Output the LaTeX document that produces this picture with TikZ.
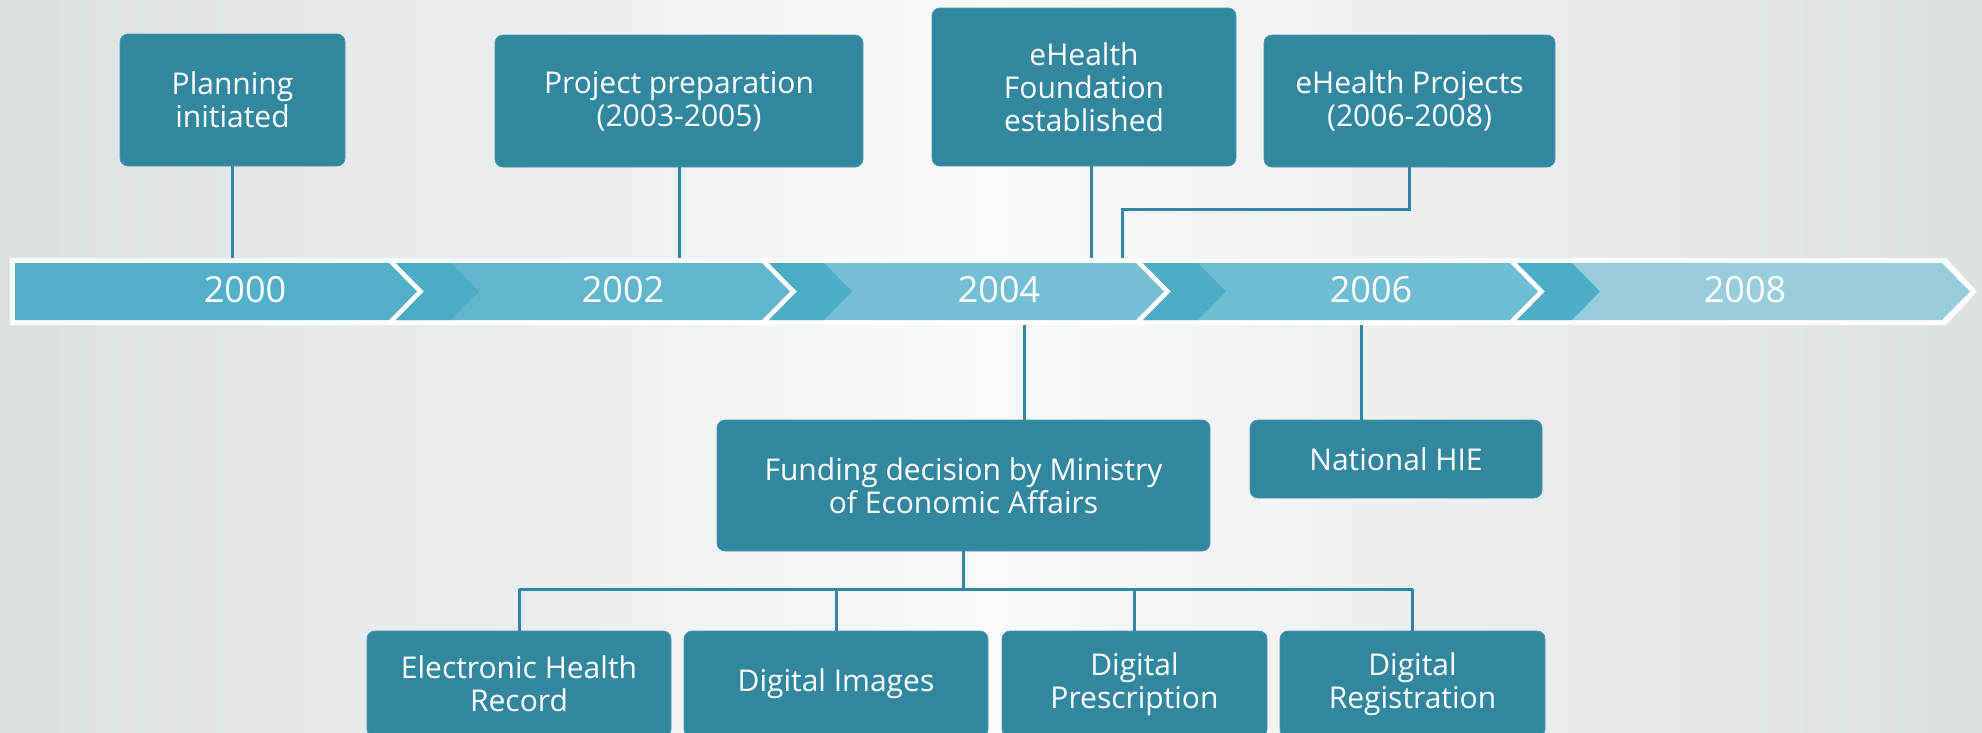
\documentclass[tikz,border=0pt]{standalone}
\usepackage{fontspec}
\setmainfont{Open Sans}
\definecolor{boxc}{HTML}{32879E}
\definecolor{boxedge}{HTML}{4A97AC}
\definecolor{bgside}{HTML}{DCE1E4}
\definecolor{bgmid}{HTML}{F9FAFA}
\definecolor{segA}{HTML}{53AEC7}
\definecolor{segB}{HTML}{61B5CC}
\definecolor{segC}{HTML}{74BFD3}
\definecolor{segD}{HTML}{6FBDD2}
\definecolor{segE}{HTML}{98CEDC}
\definecolor{darkchev}{HTML}{4BADC6}
\begin{document}
\begin{tikzpicture}[x=1pt,y=-1pt,
  tbox/.style={fill=boxc, draw=boxedge, line width=0.8pt, rounded corners=8pt, inner sep=0pt,
    align=center, text=white, font=\fontsize{30}{33}\selectfont},
  year/.style={text=white, inner sep=0pt, font=\fontsize{36}{40}\selectfont},
  conn/.style={draw=boxc, line width=3pt}]
\useasboundingbox (0,0) rectangle (1982,732);
\clip (0,0) rectangle (1982,732);
\shade[left color=bgside, right color=bgside, middle color=bgmid] (0,0) rectangle (1982,732);

% timeline bar
\fill[white] (10,258) -- (1946,258) -- (1977,291.5) -- (1946,325) -- (10,325) -- cycle;
\fill[segA] (15,263) -- (389,263) -- (417,291.5) -- (389,320) -- (15,320) -- cycle;
\foreach \L/\R/\c in {396/762/segB, 769/1136/segC, 1143/1510/segD}{
  \fill[\c] (\L,263) -- (\R,263) -- (\R+28,291.5) -- (\R,320) -- (\L,320) -- (\L+28,291.5) -- cycle;
}
\fill[segE] (1517,263) -- (1942,263) -- (1970,291.5) -- (1942,320) -- (1517,320) -- (1545,291.5) -- cycle;
\foreach \L in {396,769,1143,1517}{
  \fill[darkchev] (\L,263) -- (\L+55,263) -- (\L+83,291.5) -- (\L+55,320) -- (\L,320) -- (\L+28,291.5) -- cycle;
}
\node[year] (y2000) at (245,290) {2000};
\node[year] (y2002) at (623,290) {2002};
\node[year] (y2004) at (999,290) {2004};
\node[year] (y2006) at (1371,290) {2006};
\node[year] (y2008) at (1745,290) {2008};
\coordinate (bartop) at (0,258);
\coordinate (barbot) at (0,325);

% boxes
\node[tbox, minimum width=225, minimum height=132] (plan) at (232.5,100) {Planning\\initiated};
\node[tbox, minimum width=368, minimum height=132] (prep) at (679,101) {Project preparation\\(2003-2005)};
\node[tbox, minimum width=304, minimum height=158] (found) at (1084,87) {eHealth\\Foundation\\established};
\node[tbox, minimum width=291, minimum height=132] (proj) at (1409.5,101) {eHealth Projects\\(2006-2008)};
\node[tbox, minimum width=493, minimum height=131] (fund) at (963.5,485.5) {Funding decision by Ministry\\of Economic Affairs};
\node[tbox, minimum width=292, minimum height=78] (hie) at (1396,459) {National HIE};
\node[tbox, minimum width=304, minimum height=106] (ehr) at (519,684) {Electronic Health\\Record};
\node[tbox, minimum width=304, minimum height=106] (di) at (836,684) {Digital Images};
\node[tbox, minimum width=265, minimum height=106] (dp) at (1134.5,684) {Digital\\Prescription};
\node[tbox, minimum width=265, minimum height=106] (dr) at (1412.5,684) {Digital\\Registration};

% connectors
\draw[conn] (plan.south) -- (plan.south |- bartop);
\draw[conn] (prep.south) -- (prep.south |- bartop);
\draw[conn] ([xshift=7pt]found.south) -- ([xshift=7pt]found.south |- bartop);
\coordinate (elbow) at (1122,209);
\draw[conn] (proj.south) |- (elbow) -- (elbow |- bartop);
\coordinate (fundtap) at (1024,325);
\draw[conn] (fundtap) -- (fundtap |- fund.north);
\coordinate (hietap) at (1361,325);
\draw[conn] (hietap) -- (hietap |- hie.north);
\coordinate (bus) at (963,589);
\draw[conn] (fund.south) -- (fund.south |- bus);
\draw[conn] (ehr.north |- bus) -- (dr.north |- bus);
\foreach \n in {ehr,di,dp,dr}{
  \draw[conn] (\n.north |- bus) -- (\n.north);
}
\end{tikzpicture}
\end{document}
